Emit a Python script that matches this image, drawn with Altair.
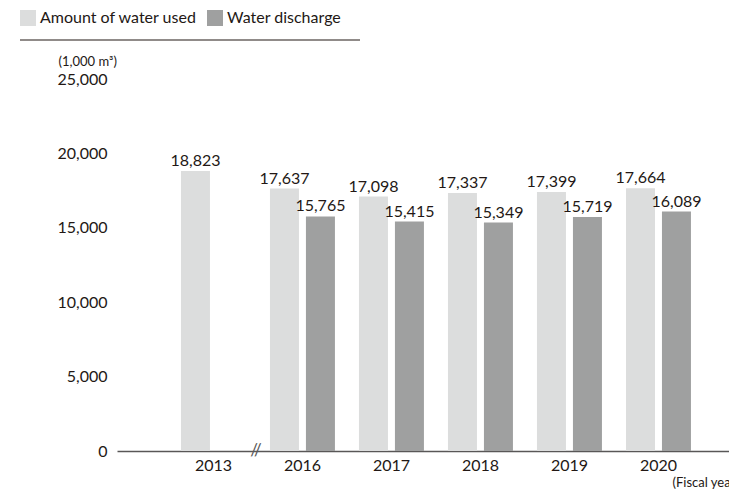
import altair as alt
import pandas as pd

years = ["2013", "2016", "2017", "2018", "2019", "2020"]
water_used = [18823, 17637, 17098, 17337, 17399, 17664]
water_discharge = [None, 15765, 15415, 15349, 15719, 16089]
series = ["Amount of water used", "Water discharge"]
colors = ["#dcdddd", "#9fa0a0"]
y_ticks = [0, 5000, 10000, 15000, 20000, 25000]

rows = []
for y, u, d in zip(years, water_used, water_discharge):
    if u is not None:
        rows.append({"year": y, "series": series[0], "value": u})
    if d is not None:
        rows.append({"year": y, "series": series[1], "value": d})
df = pd.DataFrame(rows)

FONT = "Lato"
TXT = "#231815"

x_enc = alt.X(
    "year:N",
    sort=years,
    scale=alt.Scale(domain=years, paddingInner=0.27, paddingOuter=0.573, align=0.627),
    axis=alt.Axis(
        title="(Fiscal year)",
        titleFontSize=13, titleFontWeight="normal", titleColor=TXT, titleFont=FONT,
        titleAlign="left", titleBaseline="alphabetic", titleX=555, titleY=35,
        labelAngle=0, labelFontSize=16, labelColor=TXT, labelFont=FONT,
        labelPadding=6, ticks=False, domainColor="#595757", domainWidth=1.5,
    ),
)
xoff = alt.XOffset("series:N", scale=alt.Scale(domain=series, paddingInner=0.194, paddingOuter=0))
y_enc = alt.Y(
    "value:Q",
    scale=alt.Scale(domain=[0, 25000], nice=False),
    axis=alt.Axis(
        values=y_ticks, format=",.0f", grid=False, domain=False, ticks=False,
        labelFontSize=16, labelColor=TXT, labelFont=FONT, labelPadding=10,
        title="(1,000 m³)", titleAngle=0, titleAlign="left", titleBaseline="alphabetic",
        titleX=-59, titleY=-14, titleFontSize=13, titleFontWeight="normal",
        titleColor=TXT, titleFont=FONT,
    ),
)
color_enc = alt.Color(
    "series:N",
    scale=alt.Scale(domain=series, range=colors),
    legend=alt.Legend(
        title=None, orient="none", legendX=-97, legendY=-69, direction="horizontal",
        symbolType="square", symbolSize=256, symbolStrokeWidth=0, symbolOpacity=1,
        labelFontSize=16, labelColor=TXT, labelFont=FONT, labelOffset=4,
        columnPadding=10, padding=0,
    ),
)

base = alt.Chart(df)
bars = base.mark_bar().encode(x=x_enc, xOffset=xoff, y=y_enc, color=color_enc)
labels = base.mark_text(
    fontSize=16, font=FONT, color=TXT, baseline="alphabetic", dy=-5
).encode(x=x_enc, xOffset=xoff, y=y_enc, text=alt.Text("value:Q", format=","))

one = pd.DataFrame({"k": [1]})
legend_line = alt.Chart(one).mark_rule(color="#231815", strokeWidth=1.2).encode(
    x=alt.value(-97), x2=alt.value(243), y=alt.value(-39)
)
brk = alt.Chart(one).mark_text(
    text="//", fontSize=17, font=FONT, color="#595757", align="center", baseline="middle"
).encode(x=alt.value(139), y=alt.value(372))

chart = alt.layer(bars, labels, legend_line, brk).properties(
    width=612, height=372,
    autosize=alt.AutoSizeParams(type="none"),
    padding={"left": 117, "top": 79, "right": 0, "bottom": 38},
).configure_view(stroke=None)

chart.save("out.html", embed_options={"renderer": "svg", "actions": False})
